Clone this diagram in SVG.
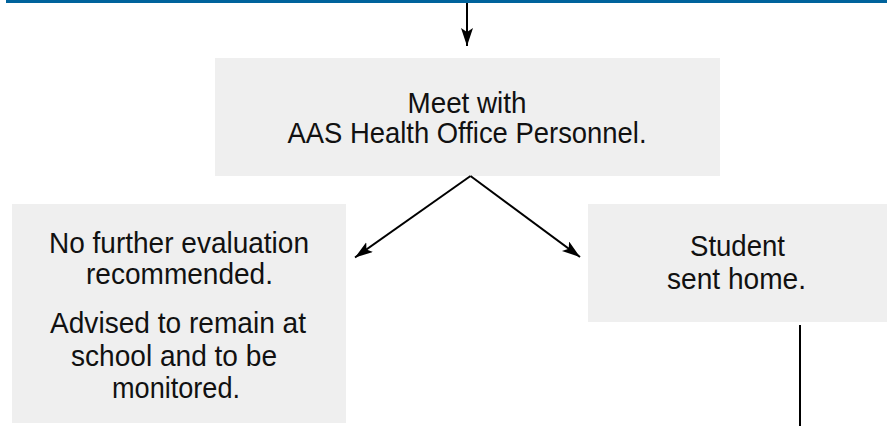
<svg xmlns="http://www.w3.org/2000/svg" width="887" height="426" viewBox="0 0 887 426">
<style>
.box{fill:#efefef}
.t{font-family:"Liberation Sans",Arial,sans-serif;font-size:29px;fill:#111;text-anchor:middle}
.c{stroke:#000;stroke-width:2;fill:none}
</style>
<defs>
<marker id="ah" markerUnits="userSpaceOnUse" markerWidth="22" markerHeight="14" refX="18" refY="6" orient="auto">
<path d="M0,0 L18,6 L0,12 L4,6 z" fill="#000"/>
</marker>
</defs>
<rect x="6" y="0" width="881" height="3" fill="#00639c"/>
<g id="n-meet">
<rect class="box" x="215" y="58" width="505" height="118"/>
<text class="t" x="467" y="113" textLength="119" lengthAdjust="spacingAndGlyphs">Meet with</text>
<text class="t" x="467" y="143" textLength="359" lengthAdjust="spacingAndGlyphs">AAS Health Office Personnel.</text>
</g>
<g id="n-nofurther">
<rect class="box" x="12" y="204" width="334" height="219"/>
<text class="t" x="179" y="253" textLength="260" lengthAdjust="spacingAndGlyphs">No further evaluation</text>
<text class="t" x="179.5" y="284" textLength="187" lengthAdjust="spacingAndGlyphs">recommended.</text>
<text class="t" x="178" y="333" textLength="256" lengthAdjust="spacingAndGlyphs">Advised to remain at</text>
<text class="t" x="174" y="366" textLength="206" lengthAdjust="spacingAndGlyphs">school and to be</text>
<text class="t" x="176" y="398" textLength="128" lengthAdjust="spacingAndGlyphs">monitored.</text>
</g>
<g id="n-home">
<rect class="box" x="588" y="204" width="299" height="118"/>
<text class="t" x="737.5" y="256" textLength="95" lengthAdjust="spacingAndGlyphs">Student</text>
<text class="t" x="736.5" y="289" textLength="139" lengthAdjust="spacingAndGlyphs">sent home.</text>
</g>
<g id="connectors">
<line class="c" x1="467" y1="3" x2="467" y2="46" marker-end="url(#ah)"/>
<line class="c" x1="470.5" y1="176" x2="355" y2="257.5" marker-end="url(#ah)"/>
<line class="c" x1="470.5" y1="176" x2="580" y2="257" marker-end="url(#ah)"/>
<line class="c" x1="800" y1="325" x2="800" y2="426"/>
</g>
</svg>
